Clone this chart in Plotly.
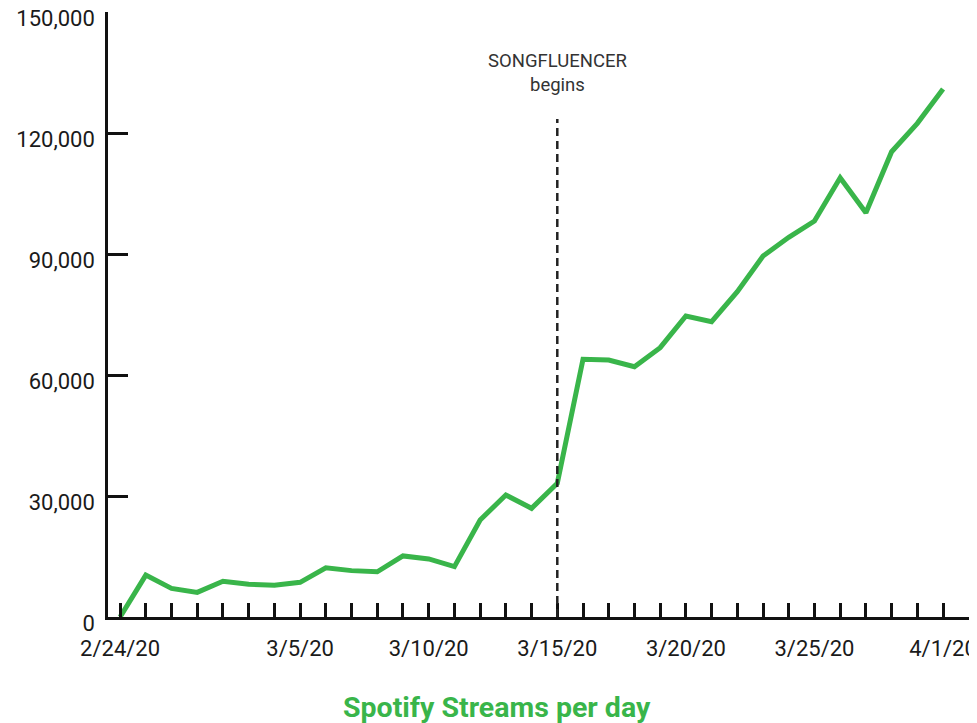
import plotly.graph_objects as go

# Data
tick_labels = {0: "2/24/20", 7: "3/5/20", 12: "3/10/20", 17: "3/15/20",
               22: "3/20/20", 27: "3/25/20", 32: "4/1/20"}
streams = [0, 10400, 7100, 6100, 8850, 8100, 7860, 8600, 12200, 11500, 11200,
           15150, 14400, 12500, 24060, 30260, 26950, 33150, 63900, 63740, 62080,
           66790, 74650, 73240, 80680, 89530, 94170, 98200, 108950, 100270,
           115400, 122440, 130950]
event_index = 17
event_label = "SONGFLUENCER<br>begins"
y_ticks = [0, 30000, 60000, 90000, 120000, 150000]

x_idx = list(range(len(streams)))
ticktext = [tick_labels.get(i, "") for i in x_idx]

GREEN = "#39b54a"
# page has an 8px body margin; figure sized so it fills the 977x723 window
W, H = 969, 715
M_L, M_R, M_T, M_B = 100, 0, 4, 106
plot_w = W - M_L - M_R
plot_h = H - M_T - M_B
OFF = 8

fig = go.Figure()
fig.add_trace(go.Scatter(x=x_idx, y=streams, mode="lines",
                         line=dict(color=GREEN, width=5),
                         hoverinfo="skip"))

fig.add_shape(type="line", xref="x", yref="y", x0=event_index, x1=event_index,
              y0=0, y1=123500, line=dict(color="#222222", width=2.5, dash="8px,5px"))

fig.add_annotation(x=event_index, xref="x",
                   y=(M_T + plot_h - (73 - OFF)) / plot_h,
                   yref="paper", yanchor="middle", text=event_label,
                   showarrow=False,
                   font=dict(family="Roboto", size=18.5, color="#333333"))

fig.add_annotation(x=(497 - OFF - M_L) / plot_w, xref="paper",
                   y=-((707 - OFF) - M_T - plot_h) / plot_h,
                   yref="paper", yanchor="middle", xanchor="center",
                   text="<b>Spotify Streams per day</b>", showarrow=False,
                   font=dict(family="Roboto", size=28.5, color=GREEN))

fig.update_layout(
    width=W, height=H,
    margin=dict(l=M_L, r=M_R, t=M_T, b=M_B, autoexpand=False),
    paper_bgcolor="white", plot_bgcolor="white",
    showlegend=False,
    font=dict(family="Roboto", color="#1a1a1a", size=22),
    xaxis=dict(range=[-0.47, 33.32], tickmode="array", tickvals=x_idx,
               ticktext=ticktext, ticks="inside", ticklen=14, tickwidth=2.5,
               tickcolor="#111111", showline=True, linecolor="#111111",
               linewidth=2.5, showgrid=False, zeroline=False, automargin=False,
               tickfont=dict(size=22), ticklabelstandoff=10,
               ticklabeloverflow="allow"),
    yaxis=dict(range=[0, 150050], tickmode="array", tickvals=y_ticks,
               ticktext=[f"{v:,}" for v in y_ticks], ticks="inside",
               ticklen=20, tickwidth=2.5, tickcolor="#111111", showline=True,
               linecolor="#111111", linewidth=2.5, showgrid=False,
               zeroline=False, automargin=False, tickfont=dict(size=22),
               ticklabelstandoff=6, ticklabelshift=6,
               ticklabeloverflow="allow"),
)

fig.write_html("out.html")
